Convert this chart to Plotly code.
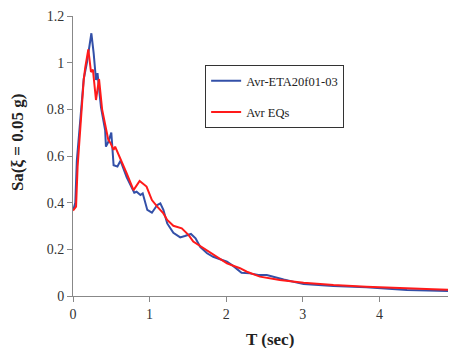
import plotly.graph_objects as go

# Avr-ETA20f01-03 (blue)
T_blue = [0.0, 0.01, 0.03, 0.05, 0.095, 0.14, 0.18, 0.24, 0.27, 0.30, 0.32, 0.365, 0.42, 0.43, 0.46,
          0.50, 0.53, 0.58, 0.62, 0.70, 0.80, 0.83, 0.88, 0.91, 0.97, 1.03, 1.10, 1.14, 1.18, 1.23,
          1.31, 1.40, 1.46, 1.54, 1.60, 1.66, 1.75, 1.83, 2.01, 2.09, 2.20, 2.31, 2.42, 2.53, 2.75,
          3.01, 3.40, 3.83, 4.36, 4.70, 5.0]
Sa_blue = [0.37, 0.376, 0.40, 0.58, 0.754, 0.93, 0.997, 1.126, 1.04, 0.926, 0.955, 0.81, 0.71, 0.64, 0.66,
           0.70, 0.56, 0.555, 0.58, 0.51, 0.443, 0.447, 0.433, 0.44, 0.369, 0.357, 0.39, 0.397, 0.369, 0.311,
           0.271, 0.251, 0.257, 0.266, 0.247, 0.211, 0.183, 0.168, 0.147, 0.129, 0.10, 0.097, 0.09, 0.09, 0.071,
           0.051, 0.043, 0.037, 0.026, 0.024, 0.021]

# Avr EQs (red)
T_red = [0.0, 0.04, 0.06, 0.12, 0.14, 0.16, 0.20, 0.235, 0.26, 0.30, 0.34, 0.38, 0.46, 0.49, 0.53,
         0.55, 0.64, 0.70, 0.79, 0.87, 0.96, 1.03, 1.10, 1.18, 1.23, 1.31, 1.42, 1.51, 1.57, 1.66,
         1.79, 1.96, 2.01, 2.18, 2.27, 2.44, 2.70, 3.01, 3.40, 3.83, 4.27, 4.70, 5.0]
Sa_red = [0.366, 0.383, 0.554, 0.854, 0.926, 0.98, 1.057, 0.96, 0.97, 0.84, 0.93, 0.80, 0.67, 0.655, 0.626,
          0.64, 0.576, 0.526, 0.454, 0.493, 0.469, 0.411, 0.383, 0.354, 0.326, 0.301, 0.29, 0.261, 0.233, 0.214,
          0.19, 0.154, 0.14, 0.119, 0.104, 0.083, 0.069, 0.057, 0.047, 0.04, 0.033, 0.029, 0.026]

x_ticks = [0, 1, 2, 3, 4, 5]
y_ticks = [0, 0.2, 0.4, 0.6, 0.8, 1.0, 1.2]

fig = go.Figure()
fig.add_trace(go.Scatter(x=T_blue, y=Sa_blue, mode="lines", name="Avr-ETA20f01-03",
                         line=dict(color="#3350A8", width=2), legendgroup="a", cliponaxis=False))
fig.add_trace(go.Scatter(x=T_red, y=Sa_red, mode="lines", name="Avr EQs",
                         line=dict(color="#FF1A1A", width=2), legendgroup="b", cliponaxis=False))

font_family = "Liberation Serif"
title_font = dict(family=font_family, size=17, color="#222222")
fig.update_layout(
    width=448, height=340,
    margin=dict(l=65, r=0, t=8, b=52, autoexpand=False),
    paper_bgcolor="white", plot_bgcolor="white",
    font=dict(family=font_family, size=14, color="#333333"),
    showlegend=True,
    legend=dict(x=0.345, y=0.825, xanchor="left", yanchor="top",
                bordercolor="#333333", borderwidth=1, bgcolor="white",
                font=dict(family=font_family, size=12.5, color="#222222"),
                traceorder="grouped", tracegroupgap=12, itemwidth=30),
    xaxis=dict(range=[0, 5], tickvals=x_ticks, ticks="outside", ticklen=5,
               tickcolor="#888888", showline=True, linecolor="#888888", linewidth=1,
               showgrid=False, zeroline=False, automargin=False),
    yaxis=dict(range=[0, 1.2], tickvals=y_ticks, ticks="outside", ticklen=5,
               tickcolor="#888888", showline=True, linecolor="#888888", linewidth=1,
               showgrid=False, zeroline=False, automargin=False),
    annotations=[
        dict(text="<b>T (sec)</b>", xref="paper", yref="paper", x=0.514, y=-0.157,
             xanchor="center", yanchor="middle", showarrow=False, font=title_font),
        dict(text="<b>Sa(ξ = 0.05 g)</b>", xref="paper", yref="paper", x=-0.146, y=0.55,
             xanchor="center", yanchor="middle", showarrow=False, textangle=-90, font=title_font),
    ],
)

fig.write_html("out.html")
